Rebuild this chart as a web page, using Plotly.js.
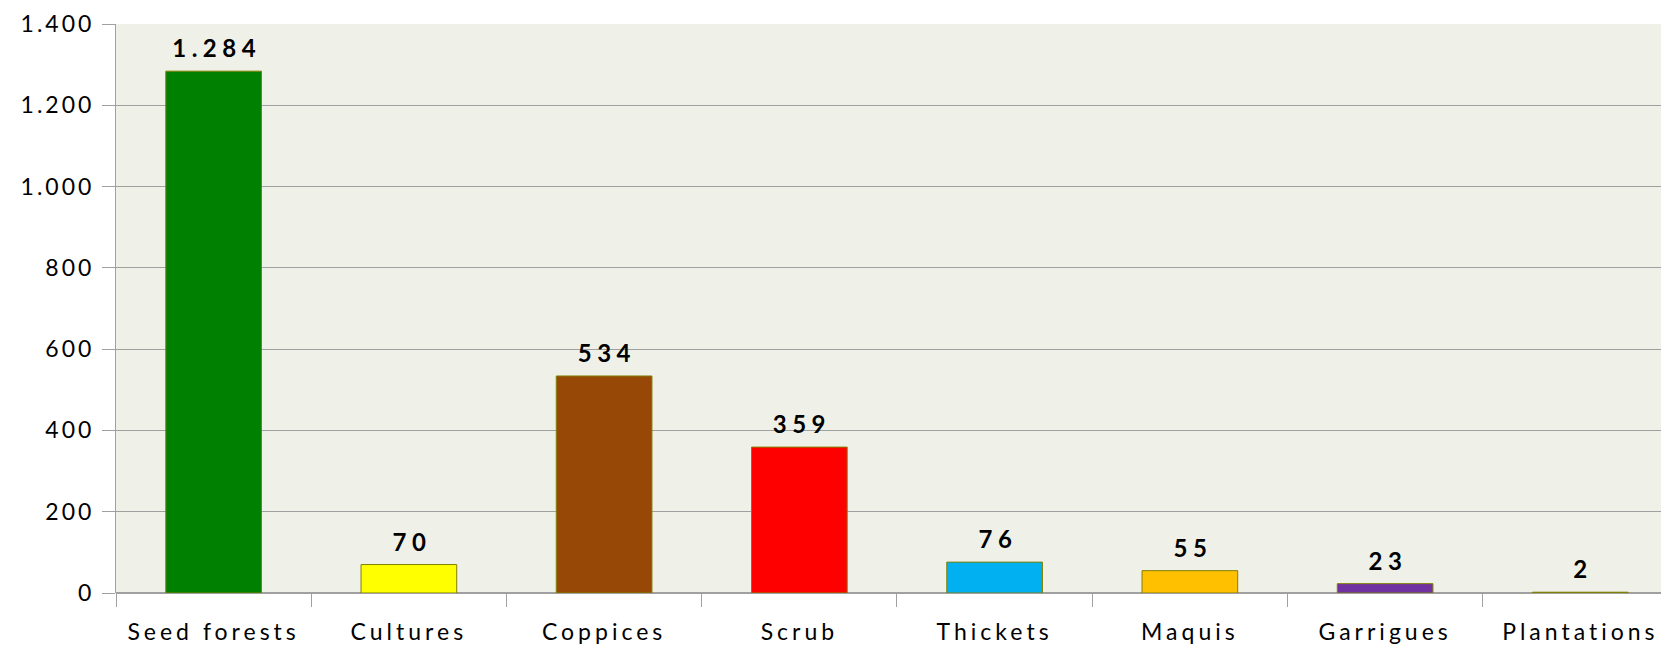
<!DOCTYPE html>
<html><head><meta charset="utf-8">
<script src="https://cdn.plot.ly/plotly-3.0.1.min.js"></script>
<style>
body{margin:0;padding:0;background:#fff;}
#chart .xtick text{letter-spacing:4px;}
#chart .ytick text{letter-spacing:3px;}
#chart .annotation-text{letter-spacing:5.5px;}
</style>
</head><body>
<div id="chart" style="width:1661px;height:647px;"></div>
<script>
const categories = ["Seed forests","Cultures","Coppices","Scrub","Thickets","Maquis","Garrigues","Plantations"];
const values = [1284,70,534,359,76,55,23,2];
const colors = ["#008000","#FFFF00","#974807","#FF0000","#00B0F0","#FFC000","#7030A0","#808000"];

const fmt = v => v.toLocaleString('de-DE');

const trace = {
  type:'bar', x:categories, y:values,
  marker:{color:colors, line:{color:'#808000', width:1}},
  width:0.49,
  hoverinfo:'none'
};
const annotations = categories.map((c,i)=>({
  x:c, y:values[i], xref:'x', yref:'y', text:'<b>'+fmt(values[i])+'</b>',
  showarrow:false, yanchor:'bottom', xanchor:'center', yshift:7, xshift:3,
  font:{family:'Lato, "Open Sans", sans-serif', size:24, color:'#000'}
}));
const layout = {
  width:1661, height:647,
  margin:{l:116, r:0, t:24, b:54},
  separators:',.',
  paper_bgcolor:'#ffffff', plot_bgcolor:'#EFF1E9',
  showlegend:false,
  font:{family:'Lato, "Open Sans", sans-serif', size:21, color:'#000'},
  annotations: annotations,
  xaxis:{type:'category', range:[-0.5, 7.413], tickson:'boundaries', ticks:'outside', ticklen:13, tickcolor:'#a0a0a0',
    showline:false, showgrid:false, tickfont:{size:23}, ticklabelstandoff:23, fixedrange:true},
  yaxis:{range:[0,1400], dtick:200, tickformat:',', ticks:'outside', ticklen:13, tickcolor:'#a0a0a0',
    showline:true, linecolor:'#a0a0a0', linewidth:1, gridcolor:'#a0a0a0', gridwidth:1,
    zeroline:true, zerolinecolor:'#a0a0a0', zerolinewidth:1.5, tickfont:{size:23}, ticklabelstandoff:3, fixedrange:true}
};
Plotly.newPlot('chart',[trace],layout,{displayModeBar:false,staticPlot:true});
</script>
</body></html>
